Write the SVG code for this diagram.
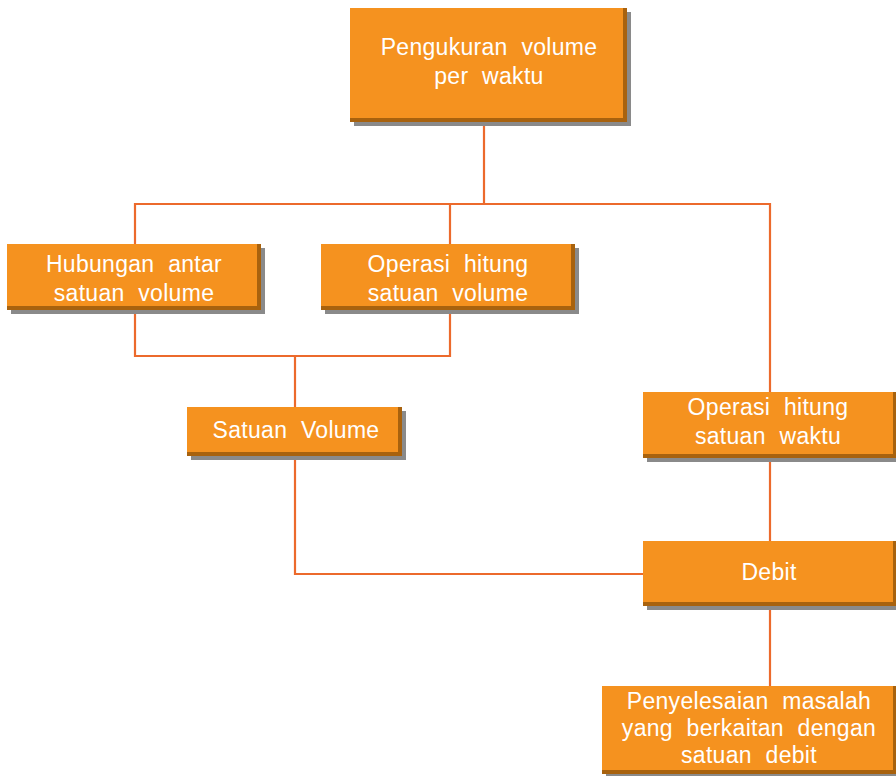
<svg xmlns="http://www.w3.org/2000/svg" width="896" height="776" viewBox="0 0 896 776">
  <style>
    .shadow { fill: #8a8a8a; }
    .bevel { fill: #a8620e; }
    .face { fill: #f5921f; }
    .label { font-family: "Liberation Sans", Arial, sans-serif; font-size: 23px; fill: #ffffff; text-anchor: middle; letter-spacing: 0.3px; word-spacing: 7px; }
    .wire { fill: none; stroke: #ec6a2c; stroke-width: 2.2; }
  </style>
  <rect width="896" height="776" fill="#ffffff"/>

  <!-- connectors -->
  <g id="connectors" class="wire">
    <path d="M484 122 V204"/>
    <path d="M135 244 V204 H770 V392"/>
    <path d="M450 204 V244"/>
    <path d="M135 310 V356 H450 V310"/>
    <path d="M295 356 V407"/>
    <path d="M295 456 V574 H643"/>
    <path d="M770 458 V541"/>
    <path d="M770 606 V686"/>
  </g>

  <!-- root -->
  <g id="n-pengukuran">
    <rect class="shadow" x="354" y="12" width="277" height="114"/>
    <rect class="bevel" x="350" y="8" width="277" height="114"/>
    <rect class="face" x="350" y="8" width="273" height="110"/>
    <text class="label" x="489" y="55">Pengukuran volume</text>
    <text class="label" x="489" y="84">per waktu</text>
  </g>

  <g id="n-hubungan">
    <rect class="shadow" x="11" y="248" width="254" height="66"/>
    <rect class="bevel" x="7" y="244" width="254" height="66"/>
    <rect class="face" x="7" y="244" width="250" height="62"/>
    <text class="label" x="134" y="272">Hubungan antar</text>
    <text class="label" x="134" y="301">satuan volume</text>
  </g>

  <g id="n-operasi-volume">
    <rect class="shadow" x="325" y="248" width="254" height="66"/>
    <rect class="bevel" x="321" y="244" width="254" height="66"/>
    <rect class="face" x="321" y="244" width="250" height="62"/>
    <text class="label" x="448" y="272">Operasi hitung</text>
    <text class="label" x="448" y="301">satuan volume</text>
  </g>

  <g id="n-satuan-volume">
    <rect class="shadow" x="191" y="411" width="215" height="49"/>
    <rect class="bevel" x="187" y="407" width="215" height="49"/>
    <rect class="face" x="187" y="407" width="211" height="45"/>
    <text class="label" x="296" y="438">Satuan Volume</text>
  </g>

  <g id="n-operasi-waktu">
    <rect class="shadow" x="647" y="396" width="254" height="66"/>
    <rect class="bevel" x="643" y="392" width="254" height="66"/>
    <rect class="face" x="643" y="392" width="250" height="62"/>
    <text class="label" x="768" y="415">Operasi hitung</text>
    <text class="label" x="768" y="444">satuan waktu</text>
  </g>

  <g id="n-debit">
    <rect class="shadow" x="647" y="545" width="254" height="65"/>
    <rect class="bevel" x="643" y="541" width="254" height="65"/>
    <rect class="face" x="643" y="541" width="250" height="61"/>
    <text class="label" x="769" y="580">Debit</text>
  </g>

  <g id="n-penyelesaian">
    <rect class="shadow" x="606" y="690" width="295" height="88"/>
    <rect class="bevel" x="602" y="686" width="295" height="88"/>
    <rect class="face" x="602" y="686" width="291" height="84"/>
    <text class="label" x="749" y="709">Penyelesaian masalah</text>
    <text class="label" x="749" y="736">yang berkaitan dengan</text>
    <text class="label" x="749" y="763">satuan debit</text>
  </g>
</svg>
